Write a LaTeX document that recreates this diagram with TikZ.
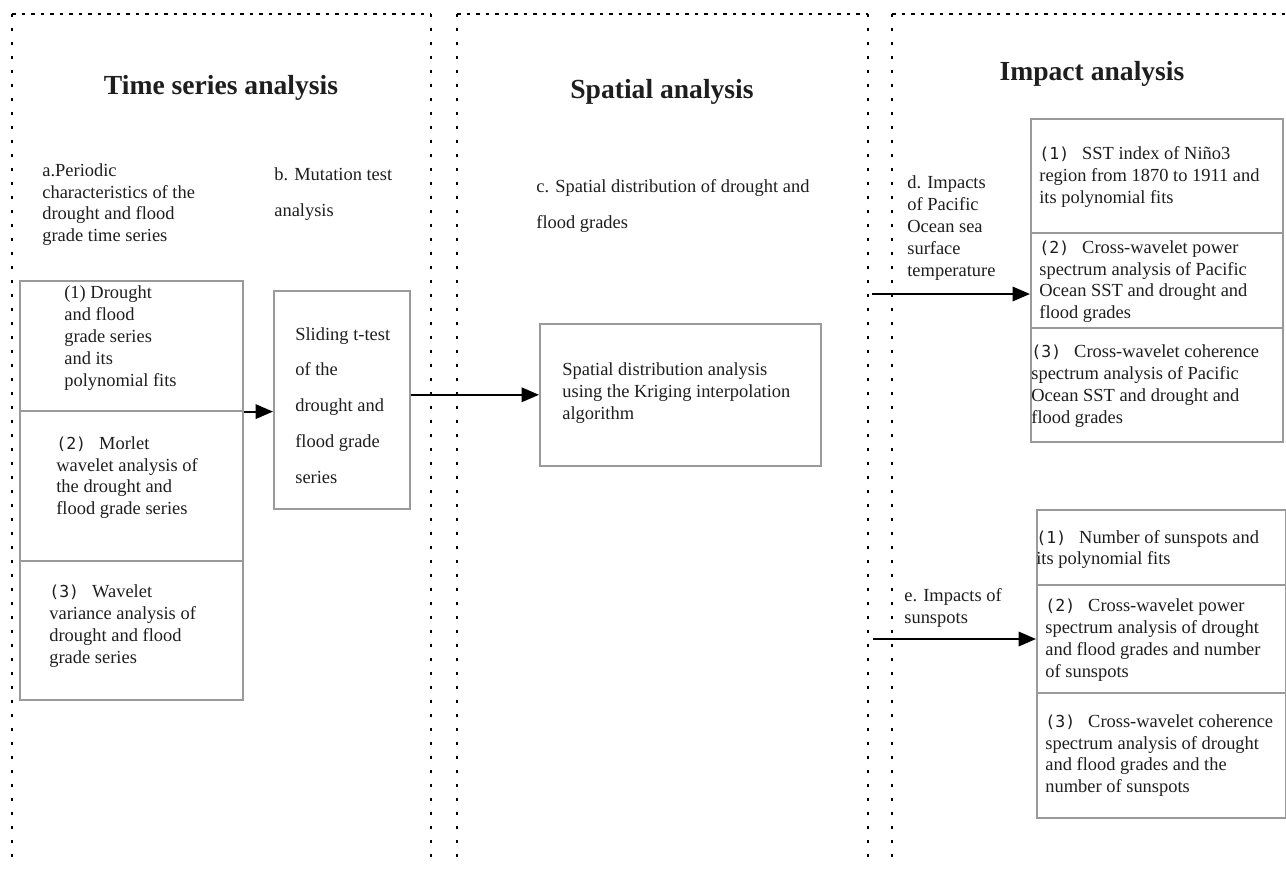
\documentclass[tikz,border=0pt]{standalone}
\usepackage{fontspec}
\setmainfont{Liberation Serif}
\newfontfamily\numfont{DejaVu Sans Mono}
\usetikzlibrary{arrows.meta, calc, positioning}
\definecolor{boxgray}{HTML}{9A9A9A}
\definecolor{inkgray}{HTML}{1E1E1E}
\tikzset{
  panelh/.style  = {draw=black, line width=1.1pt, dash pattern=on 0.7mm off 1.2mm},
  panelv/.style  = {draw=black, line width=1.1pt, dash pattern=on 0.6mm off 2.2mm},
  stepbox/.style = {draw=boxgray, line width=0.9pt, anchor=north west, inner sep=0pt},
  wh/.style 2 args = {minimum width=#1*0.2mm, minimum height=#2*0.2mm},
  body/.style    = {anchor=west, align=left, inner sep=0pt, text=inkgray,
                    font=\fontsize{10.5}{12.4}\selectfont},
  wide/.style    = {font=\fontsize{10.5}{20.4}\selectfont},
  title/.style   = {inner sep=0pt, text=inkgray, font=\fontsize{15.7}{18}\selectfont\bfseries},
  flow/.style    = {-{Triangle[length=3.5mm, width=2.9mm]}, line width=1.2pt},
}
\newcommand{\gradeno}[1]{{\numfont\fontsize{9.4}{12}\selectfont(#1)}\hspace{2.6mm}}

\begin{document}
\begin{tikzpicture}[x=0.2mm, y=-0.2mm]
  \useasboundingbox (0,0) rectangle (1286,868);
  % dotted panels
  \draw[panelh] (12,14) -- (431,14);
  \draw[panelh] (457,14) -- (868,14);
  \draw[panelh] (892,14) -- (1286,14);
  \foreach \px in {12,431,457,868,892}
    \draw[panelv] (\px,14) -- (\px,868);
  % titles
  \node[title] (tstitle) at (221,88) {Time series analysis};
  \node[title] (sptitle) at (662,92) {Spatial analysis};
  \node[title] (imtitle) at (1092,74) {Impact analysis};
  % step labels
  \node[body] (la) at (42,204.5) {a.Periodic\\characteristics of the\\drought and flood\\grade time series};
  \node[body, wide] (lb) at (274,194) {b. Mutation test\\analysis};
  \node[body, wide] (lc) at (536,206) {c. Spatial distribution of drought and\\flood grades};
  \node[body] (ld) at (907,228) {d. Impacts\\of Pacific\\Ocean sea\\surface\\temperature};
  \node[body] (le) at (904,608) {e. Impacts of\\sunspots};
  % boxes
  \node[stepbox, wh={223}{130}] (ts1) at (19,280) {};
  \node[stepbox, wh={223}{150}] (ts2) at (19,410) {};
  \node[stepbox, wh={223}{139}] (ts3) at (19,560) {};
  \node[stepbox, wh={136}{218}] (slide) at (273,290) {};
  \node[stepbox, wh={281}{142}] (spat) at (539,323) {};
  \node[stepbox, wh={252}{114}] (im1) at (1030,118) {};
  \node[stepbox, wh={252}{95}]  (im2) at (1030,232) {};
  \node[stepbox, wh={252}{114}] (im3) at (1030,327) {};
  \node[stepbox, wh={249}{75}]  (sp1) at (1036,509) {};
  \node[stepbox, wh={249}{108}] (sp2) at (1036,584) {};
  \node[stepbox, wh={249}{125}] (sp3) at (1036,692) {};
  % box texts
  \node[body] (ts1t) at (64,338) {(1) Drought\\and flood\\grade series\\and its\\polynomial fits};
  \node[body] (ts2t) at (56,477.5) {\gradeno{2}Morlet\\wavelet analysis of\\the drought and\\flood grade series};
  \node[body] (ts3t) at (49,626) {\gradeno{3}Wavelet\\variance analysis of\\drought and flood\\grade series};
  \node[body, wide] (slidet) at (295,405.5) {Sliding t-test\\of the\\drought and\\flood grade\\series};
  \node[body] (spatt) at (562,393) {Spatial distribution analysis\\using the Kriging interpolation\\algorithm};
  \node[body] (im1t) at (1039,177) {\gradeno{1}SST index of Niño3\\region from 1870 to 1911 and\\its polynomial fits};
  \node[body] (im2t) at (1039,281.5) {\gradeno{2}Cross-wavelet power\\spectrum analysis of Pacific\\Ocean SST and drought and\\flood grades};
  \node[body] (im3t) at (1031,386) {\gradeno{3}Cross-wavelet coherence\\spectrum analysis of Pacific\\Ocean SST and drought and\\flood grades};
  \node[body] (sp1t) at (1036,549.5) {\gradeno{1}Number of sunspots and\\its polynomial fits};
  \node[body] (sp2t) at (1045,640) {\gradeno{2}Cross-wavelet power\\spectrum analysis of drought\\and flood grades and number\\of sunspots};
  \node[body] (sp3t) at (1045,755.5) {\gradeno{3}Cross-wavelet coherence\\spectrum analysis of drought\\and flood grades and the\\number of sunspots};
  % arrows
  \coordinate (dfrom) at (872,294);
  \coordinate (efrom) at (873,639);
  \draw[flow] (ts1.south east) -- (ts1.south east -| slide.west);
  \draw[flow] (slide.east |- spat.west) -- (spat.west);
  \draw[flow] (dfrom) -- (dfrom -| im2.west);
  \draw[flow] (efrom) -- (efrom -| sp2.west);
\end{tikzpicture}
\end{document}
